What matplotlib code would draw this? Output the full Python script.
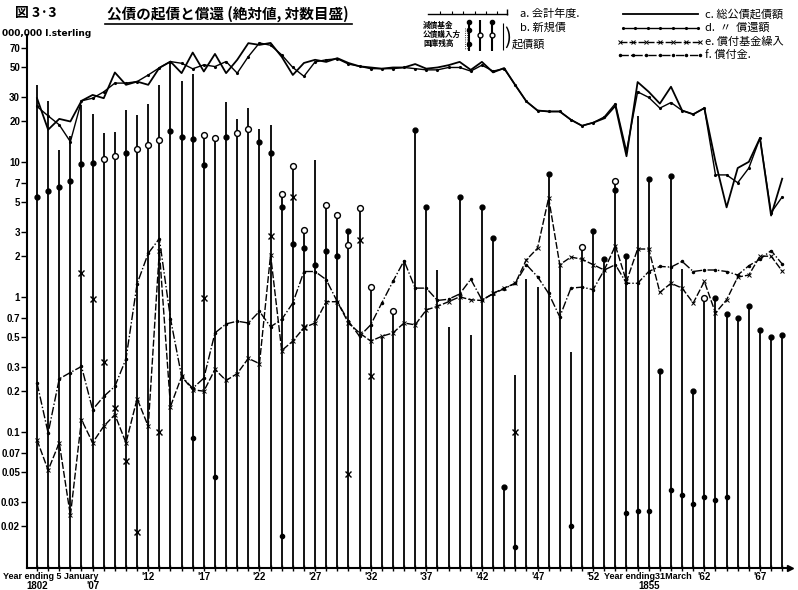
import matplotlib.pyplot as plt
from matplotlib.ticker import NullLocator

# Japanese text needs a CJK family, digits fall back to DejaVu
plt.rcParams['font.family'] = ['Noto Sans CJK JP', 'DejaVu Sans']

years = list(range(1802, 1870))

# c. total issue and d. redemption (million pounds)
issue_total = [29.6, 17.3, 20.8, 19.9, 28.3, 31.3, 29.6, 45.9, 37.2, 39.3,
               37.2, 49.7, 55.3, 45.4, 64.5, 46.7, 63, 45.4, 57, 75.7,
               73.5, 76, 60, 44, 54, 57, 55, 58.6, 54, 51,
               50, 49, 50, 50, 53, 49, 50, 52, 55, 48,
               55, 46, 49.5, 37, 28, 24, 23.6, 23.6, 20.5, 18.5,
               19.5, 21, 26, 11, 39, 33, 27, 36, 24, 22.5,
               25, 10, 4.6, 9, 10, 15, 4, 7.5]
redeemed = [25.7, 21.9, 18.8, 14.1, 28.3, 29.6, 33, 38.3, 38.3, 39.3,
            44, 49.7, 55.3, 53.7, 48.9, 52.3, 50.8, 55.3, 45.4, 60.2,
            76, 73, 62, 50, 43, 55, 57, 58, 53, 51,
            49, 49, 49, 50, 49, 48, 48, 50, 50, 47,
            52, 47, 49, 37, 28, 24, 23.6, 23.6, 20.5, 18.5,
            19.5, 21.5, 27, 12, 33, 30, 25, 27.5, 24, 22.5,
            25, 8, 8, 7, 9, 15, 4.2, 5.5]

# e. sinking fund and f. repayments
sinking = [0.087, 0.052, 0.083, 0.024, 0.123, 0.083, 0.11, 0.134, 0.083, 0.176,
           0.11, 2.2, 0.154, 0.257, 0.205, 0.2, 0.29, 0.24, 0.27, 0.35,
           0.32, 2.05, 0.4, 0.47, 0.59, 0.64, 0.92, 0.92, 0.64, 0.54,
           0.47, 0.51, 0.54, 0.64, 0.62, 0.8, 0.85, 0.92, 1.0, 0.95,
           0.94, 1.06, 1.16, 1.26, 1.88, 2.29, 5.4, 1.73, 1.97, 1.9,
           1.73, 1.58, 2.39, 1.3, 2.26, 2.26, 1.08, 1.26, 1.16, 0.9,
           1.3, 0.76, 0.95, 1.4, 1.45, 2.0, 2.0, 1.55]
paid_off = [0.23, 0.098, 0.247, 0.275, 0.305, 0.146, 0.183, 0.217, 0.347, 1.25,
            2.1, 2.7, 0.69, 0.257, 0.21, 0.25, 0.54, 0.63, 0.66, 0.64,
            0.78, 0.6, 0.68, 0.9, 1.54, 1.54, 1.34, 0.92, 0.66, 0.51,
            0.62, 0.9, 1.3, 1.85, 1.16, 1.16, 0.94, 0.96, 1.05, 1.35,
            0.95, 1.05, 1.15, 1.26, 1.73, 1.41, 1.06, 0.71, 1.16, 1.18,
            1.13, 1.58, 1.73, 1.26, 1.26, 1.54, 1.68, 1.66, 1.83, 1.54,
            1.58, 1.58, 1.54, 1.45, 1.7, 1.9, 2.2, 1.75]

# vertical bars: new issues per year
bar_top = [37, 28, 12.3, 15.6, 26.4, 22.7, 16.4, 16.5, 24.2, 22.3,
           26.9, 37, 55, 40, 44.5, 15.8, 15.1, 27.9, 20.8, 25,
           17.5, 18.8, 5.8, 9.3, 3.1, 10.3, 4.8, 4.05, 3.05, 4.56,
           1.19, 0.5, 0.79, 1.85, 17.2, 4.6, 1.57, 0.6, 5.5, 0.52,
           4.6, 2.73, 0.039, 0.265, 1.36, 1.19, 8.1, 1.73, 0.39, 2.34,
           3.05, 1.91, 7.2, 2.0, 22, 7.5, 0.28, 7.9, 1.6, 0.2,
           0.98, 0.98, 0.75, 0.7, 0.85, 0.57, 0.5, 0.52]

# markers on the bars
dot_years = [1802, 1803, 1804, 1805, 1806, 1807, 1810, 1814, 1815, 1816, 1817, 1819,
             1822, 1823, 1824, 1825, 1826, 1827, 1828, 1829, 1830, 1836, 1837, 1840,
             1842, 1843, 1844, 1848, 1852, 1853, 1854, 1855, 1857, 1858, 1859, 1861,
             1863, 1864, 1865, 1866, 1867, 1868, 1869]
dot_vals = [5.5, 6.1, 6.5, 7.2, 9.6, 9.8, 11.6, 16.8, 15.4, 14.8, 9.5, 15.4,
            14.1, 11.6, 4.6, 2.47, 2.3, 1.73, 2.2, 1.99, 3.05, 17.2, 4.6, 5.5,
            4.6, 2.73, 0.039, 8.1, 3.05, 1.91, 6.2, 2.0, 7.5, 0.28, 7.9, 0.2,
            0.98, 0.75, 0.7, 0.85, 0.57, 0.5, 0.52]
ring_years = [1808, 1809, 1811, 1812, 1813, 1817, 1818, 1820, 1821, 1824, 1825,
              1826, 1828, 1829, 1830, 1831, 1832, 1834, 1851, 1854, 1862]
ring_vals = [10.5, 11, 12.5, 13.4, 14.5, 15.8, 15.1, 16.4, 17.5, 5.8, 9.3,
             3.1, 4.8, 4.05, 2.4, 4.56, 1.19, 0.79, 2.34, 7.2, 0.98]
low_years = [1816, 1818, 1824, 1845, 1850, 1855, 1856, 1857, 1859, 1860,
             1861, 1862, 1863, 1864]
low_vals = [0.09, 0.046, 0.017, 0.014, 0.02, 0.025, 0.026, 0.026, 0.037, 0.034,
            0.029, 0.033, 0.031, 0.033]
cross_years = [1806, 1807, 1808, 1809, 1810, 1811, 1813, 1817, 1823, 1825,
               1826, 1830, 1831, 1832, 1845]
cross_vals = [1.5, 0.97, 0.33, 0.15, 0.061, 0.018, 0.099, 0.98, 2.8, 5.5,
              0.6, 0.049, 2.64, 0.26, 0.1]

ytick_vals = [0.02, 0.03, 0.05, 0.07, 0.1, 0.2, 0.3, 0.5, 0.7,
              1, 2, 3, 5, 7, 10, 20, 30, 50, 70]
ytick_labels = ['0.02', '0.03', '0.05', '0.07', '0.1', '0.2', '0.3', '0.5', '0.7',
                '1', '2', '3', '5', '7', '10', '20', '30', '50', '70']
row1_years = [1812, 1817, 1822, 1827, 1832, 1837, 1842, 1847, 1852, 1862, 1867]
row1_labels = ["'12", "'17", "'22", "'27", "'32", "'37", "'42", "'47", "'52", "'62", "'67"]

W, H = 798, 590
fig = plt.figure(figsize=(W / 100, H / 100), dpi=100)
ax = fig.add_axes([27 / W, 1 - 568 / H, (790 - 27) / W, (568 - 35) / H])
ax.set_yscale('log')
ymin = 0.0098
ax.set_ylim(ymin, 87)
ax.set_xlim(1801.1, 1869.7)

ax.vlines(years, ymin, bar_top, colors='black', lw=1.3, zorder=2)
ax.plot(years, issue_total, color='black', lw=1.3, zorder=3)
ax.plot(years, redeemed, color='black', lw=1.0, marker='.', ms=2.5, zorder=3)
ax.plot(years, sinking, color='black', lw=1.0, ls=(0, (5, 1.5)),
        marker='x', ms=2.5, mew=0.7, zorder=3)
ax.plot(years, paid_off, color='black', lw=1.0, ls=(0, (6, 1.5, 1, 1.5)),
        marker='.', ms=3, zorder=3)

ax.plot(dot_years, dot_vals, 'o', color='black', ms=3.5, zorder=4)
ax.plot(ring_years, ring_vals, 'o', mfc='white', mec='black', ms=4.2, mew=1, zorder=4)
ax.plot(low_years, low_vals, 'o', color='black', ms=3, zorder=4)
ax.plot(cross_years, cross_vals, 'x', color='black', ms=4, mew=1, zorder=4)

# axes: only left and bottom, arrow at the end of the year axis
for s in ['top', 'right']:
    ax.spines[s].set_visible(False)
for s in ['left', 'bottom']:
    ax.spines[s].set_linewidth(1.5)
ax.plot(1, 0, '>', color='black', ms=5, transform=ax.transAxes, clip_on=False)

ax.set_yticks(ytick_vals)
ax.set_yticklabels(ytick_labels)
ax.yaxis.set_minor_locator(NullLocator())
ax.tick_params(axis='y', direction='out', length=4, width=1, pad=1, labelsize=7)
for t in ax.get_yticklabels():
    t.set_fontweight('bold')
    t.set_family('Liberation Sans')

ax.set_xticks(years)
ax.set_xticklabels([])
ax.tick_params(axis='x', direction='inout', length=5, width=1)

tr = ax.get_xaxis_transform()
lab = dict(transform=tr, fontsize=7, fontweight='bold', va='center',
           family='Liberation Sans', clip_on=False)
small = dict(transform=tr, fontsize=6.5, fontweight='bold', va='center',
             family='Liberation Sans', clip_on=False)
for yr, txt in zip(row1_years, row1_labels):
    ax.text(yr, -0.016, txt, ha='center', **lab)
ax.text(1798.9, -0.016, 'Year ending 5 January', ha='left', **small)
ax.text(1802, -0.034, '1802', ha='center', **lab)
ax.text(1807, -0.034, "'07", ha='center', **lab)
ax.text(1856.9, -0.016, 'Year ending31March', ha='center', **small)
ax.text(1857, -0.034, '1855', ha='center', **lab)

# header texts and legend in pixel coordinates
lg = fig.add_axes([0, 0, 1, 1])
lg.set_xlim(0, W)
lg.set_ylim(H, 0)
lg.axis('off')

lg.text(15, 13, '図 3·3', fontsize=10, fontweight='bold', va='center')
lg.text(107, 14, '公債の起債と償還 (絶対値, 対数目盛)', fontsize=10.5,
        fontweight='bold', va='center')
lg.plot([105, 352], [24, 24], color='black', lw=1.2)
lg.text(2, 33, '000,000 l.sterling', fontsize=6.5, fontweight='bold',
        va='center', family='DejaVu Sans')

# a. fiscal year sample
lg.plot([428, 507], [14, 14], color='black', lw=1)
lg.vlines([440, 452, 463, 475, 486, 497], 11, 14, colors='black', lw=0.8)
lg.vlines([507], 9, 15, colors='black', lw=1)
lg.text(520, 14, 'a. 会計年度.', fontsize=8, va='center')

# b. bar sample
lg.vlines([465, 467], 28, 50, colors='black', lw=0.6, linestyles=':')
lg.vlines([469, 480, 492], 20, 51, colors='black', lw=1.5)
lg.vlines([503], 23, 50, colors='black', lw=0.8)
lg.plot([469, 469, 469, 492], [22, 30, 44, 22], 'o', color='black', ms=3)
lg.plot([480, 492], [35, 35], 'o', mfc='white', mec='black', ms=3.5, mew=1)
lg.text(423, 25, '減債基金', fontsize=5.5, fontweight='bold', va='center')
lg.text(423, 34, '公債購入方', fontsize=5.5, fontweight='bold', va='center')
lg.text(423, 43, '国庫残高', fontsize=5.5, fontweight='bold', va='center')
lg.text(504, 38, ')', fontsize=15, va='center')
lg.text(512, 44, '起債額', fontsize=8, va='center')
lg.text(520, 28, 'b. 新規債', fontsize=8, va='center')

# c-f line samples
lg.plot([623, 698], [14, 14], color='black', lw=1.3)
lg.plot([623, 635, 648, 660, 673, 686, 698], [28] * 7, color='black', lw=1.0,
        marker='.', ms=2.5)
lg.plot([620, 633, 646, 660, 673, 686, 700], [42] * 7, color='black', lw=1.0,
        ls=(0, (5, 1.5)), marker='x', ms=2.5, mew=0.7)
lg.plot([620, 633, 646, 660, 673, 686, 700], [55] * 7, color='black', lw=1.0,
        ls=(0, (6, 1.5, 1, 1.5)), marker='.', ms=3)
lg.text(705, 14, 'c. 総公債起債額', fontsize=8, va='center')
lg.text(705, 28, 'd.  〃  償還額', fontsize=8, va='center')
lg.text(705, 42, 'e. 償付基金繰入', fontsize=8, va='center')
lg.text(705, 55, 'f. 償付金.', fontsize=8, va='center')

plt.savefig('out.png', dpi=100)
